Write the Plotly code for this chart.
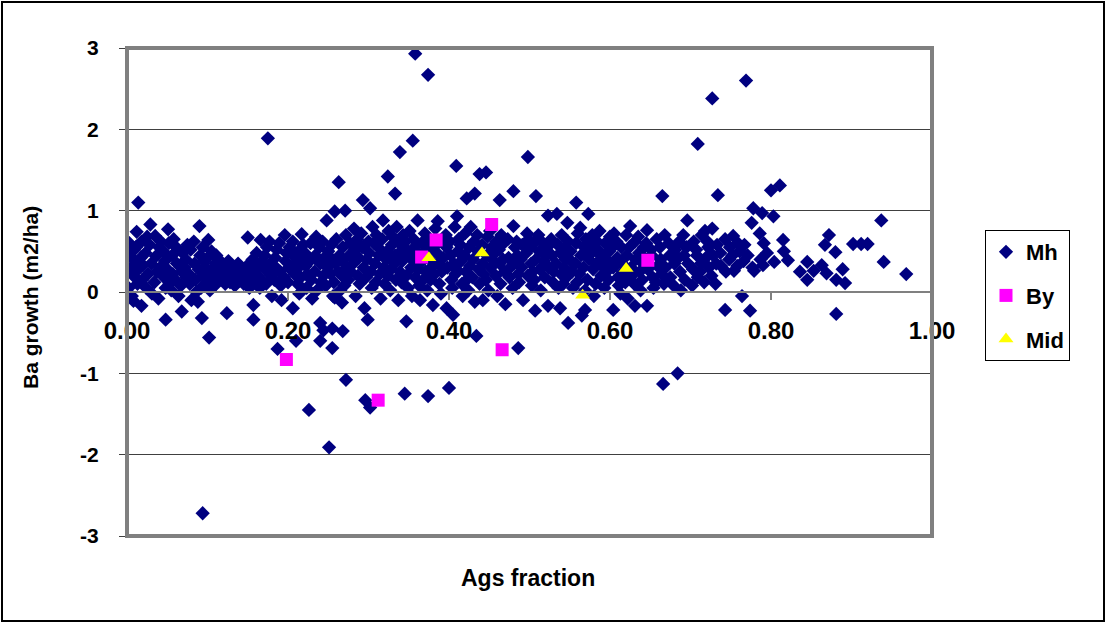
import plotly.graph_objects as go

# ---------------- data ----------------
x_ticks = [0.0, 0.2, 0.4, 0.6, 0.8, 1.0]
x_tick_labels = ["0.00", "0.20", "0.40", "0.60", "0.80", "1.00"]
y_ticks = [-3, -2, -1, 0, 1, 2, 3]
y_tick_labels = ["-3", "-2", "-1", "0", "1", "2", "3"]

# Mh: dense band
mh_band_x = [
    0.003, 0.005, 0.002, 0.006, 0.001,
    0.008, 0.009, 0.008, 0.010,
    0.012, 0.013, 0.014, 0.011,
    0.018, 0.018, 0.019, 0.017, 0.020,
    0.024, 0.023, 0.025, 0.026,
    0.029, 0.030, 0.028, 0.031,
    0.035, 0.034, 0.036, 0.037,
    0.040, 0.041, 0.039, 0.042,
    0.046, 0.045, 0.047, 0.048,
    0.051, 0.052, 0.050, 0.048, 0.053,
    0.056, 0.057, 0.058, 0.055,
    0.062, 0.061, 0.063, 0.064,
    0.068, 0.068, 0.069, 0.067,
    0.073, 0.074, 0.072, 0.075,
    0.078, 0.079, 0.077, 0.080,
    0.084, 0.083, 0.085, 0.086,
    0.090, 0.089, 0.091, 0.092, 0.088,
    0.094, 0.095, 0.093, 0.096,
    0.099, 0.100, 0.098, 0.101,
    0.104, 0.105, 0.103, 0.106,
    0.110, 0.109, 0.111, 0.112,
    0.115, 0.116, 0.114,
    0.121, 0.120, 0.124, 0.122,
    0.127, 0.128, 0.126,
    0.133, 0.132, 0.134,
    0.139, 0.140, 0.138,
    0.145, 0.146, 0.144,
    0.150, 0.151, 0.149, 0.152,
    0.157, 0.157, 0.156, 0.158, 0.157,
    0.162, 0.163, 0.161,
    0.166, 0.167, 0.168, 0.165,
    0.172, 0.171, 0.173, 0.174,
    0.178, 0.179, 0.177, 0.180,
    0.184, 0.183, 0.185, 0.186,
    0.190, 0.189, 0.191, 0.192,
    0.196, 0.197, 0.195, 0.198,
    0.201, 0.202, 0.206, 0.200,
    0.207, 0.208, 0.206, 0.209,
    0.212, 0.213, 0.211, 0.214,
    0.217, 0.218, 0.216, 0.219,
    0.222, 0.223, 0.221, 0.224,
    0.228, 0.229, 0.227, 0.230,
    0.234, 0.233, 0.235, 0.236,
    0.240, 0.239, 0.241, 0.240, 0.240,
    0.244, 0.245, 0.244, 0.243,
    0.248, 0.249, 0.247, 0.250,
    0.254, 0.253, 0.255, 0.256, 0.255,
    0.258, 0.259, 0.257, 0.260, 0.258,
    0.263, 0.264, 0.262, 0.265,
    0.268, 0.269, 0.267, 0.267, 0.268,
    0.271, 0.272, 0.273, 0.270,
    0.276, 0.277, 0.275, 0.278,
    0.282, 0.281, 0.283, 0.284,
    0.287, 0.288, 0.286, 0.289,
    0.293, 0.292, 0.294, 0.295, 0.291,
    0.298, 0.297, 0.299, 0.300,
    0.302, 0.303, 0.301, 0.304, 0.305,
    0.308, 0.307, 0.309, 0.310,
    0.313, 0.314, 0.312, 0.315,
    0.318, 0.319, 0.317, 0.320,
    0.323, 0.324, 0.322, 0.325,
    0.328, 0.329, 0.327, 0.330,
    0.333, 0.334, 0.332, 0.335,
    0.338, 0.339, 0.337, 0.340,
    0.342, 0.343, 0.341, 0.344,
    0.347, 0.347, 0.348, 0.346, 0.349,
    0.352, 0.353, 0.351, 0.354,
    0.357, 0.358, 0.356, 0.359,
    0.361, 0.362, 0.360, 0.363,
    0.366, 0.367, 0.364, 0.368,
    0.371, 0.372, 0.370, 0.373,
    0.376, 0.377, 0.375, 0.378,
    0.381, 0.380, 0.382, 0.383,
    0.386, 0.387, 0.385, 0.388,
    0.391, 0.392, 0.390, 0.393,
    0.397, 0.397, 0.398, 0.396,
    0.402, 0.403, 0.401, 0.404,
    0.405, 0.406, 0.407, 0.408,
    0.410, 0.411, 0.409, 0.412,
    0.415, 0.416, 0.414, 0.417,
    0.420, 0.421, 0.419, 0.422,
    0.425, 0.426, 0.424, 0.427,
    0.430, 0.431, 0.429, 0.432,
    0.436, 0.437, 0.435, 0.438,
    0.442, 0.442, 0.441, 0.443,
    0.447, 0.448, 0.446, 0.449,
    0.452, 0.453, 0.451, 0.454,
    0.458, 0.457, 0.459, 0.460,
    0.463, 0.464, 0.462, 0.465,
    0.468, 0.469, 0.467, 0.470,
    0.474, 0.475, 0.473, 0.476,
    0.480, 0.481, 0.479, 0.482,
    0.485, 0.486, 0.484, 0.487,
    0.490, 0.491, 0.492, 0.489,
    0.497, 0.496, 0.498, 0.499,
    0.502, 0.503, 0.501, 0.504,
    0.507, 0.508, 0.507, 0.506,
    0.512, 0.513, 0.511, 0.514,
    0.518, 0.517, 0.519, 0.520,
    0.523, 0.524, 0.523, 0.522,
    0.528, 0.529, 0.527, 0.530,
    0.534, 0.533, 0.535, 0.536,
    0.538, 0.538, 0.539, 0.540,
    0.543, 0.544, 0.542, 0.545,
    0.547, 0.548, 0.546, 0.548,
    0.552, 0.553, 0.551, 0.554,
    0.558, 0.557, 0.559, 0.560,
    0.563, 0.564, 0.562, 0.565,
    0.568, 0.567, 0.569, 0.570, 0.569,
    0.573, 0.574, 0.572, 0.575,
    0.578, 0.579, 0.577, 0.580,
    0.583, 0.584, 0.582, 0.585,
    0.588, 0.589, 0.587, 0.590,
    0.594, 0.593, 0.595, 0.596,
    0.599, 0.600, 0.598, 0.601,
    0.604, 0.604, 0.603, 0.605,
    0.609, 0.610, 0.608, 0.611,
    0.614, 0.615, 0.613, 0.616,
    0.620, 0.621, 0.619, 0.622,
    0.625, 0.626, 0.624, 0.627,
    0.631, 0.632, 0.631, 0.630,
    0.636, 0.637, 0.635, 0.638,
    0.641, 0.642, 0.640, 0.643,
    0.646, 0.647, 0.646, 0.645,
    0.652, 0.653, 0.651, 0.654,
    0.658, 0.659, 0.657,
    0.663, 0.664, 0.662,
    0.668, 0.669, 0.667,
    0.674, 0.675, 0.673,
    0.680, 0.681, 0.679,
    0.686, 0.687, 0.685, 0.688,
    0.692, 0.693, 0.691,
    0.696, 0.697, 0.695,
    0.703, 0.704, 0.702,
    0.708, 0.709, 0.707,
    0.713, 0.714, 0.712,
    0.718, 0.719, 0.717,
    0.722, 0.723, 0.721,
    0.727, 0.728, 0.726,
    0.732, 0.733, 0.731,
    0.737, 0.738,
    0.743, 0.744, 0.743,
    0.748, 0.749,
    0.753, 0.754, 0.752,
    0.758, 0.759,
    0.761, 0.764,
    0.766, 0.767,
    0.771, 0.774,
    0.776, 0.777,
    0.778, 0.779,
    0.786, 0.787,
    0.789, 0.790, 0.791,
    0.795,
    0.803, 0.804,
    0.815, 0.816,
    0.821,
]
mh_band_y = [
    0.60, 0.30, 0.05, -0.05, 0.45,
    0.20, 0.52, -0.11, 0.38,
    0.74, 0.10, 0.28, 0.55,
    0.62, -0.17, 0.15, 0.42, 0.33,
    0.05, 0.48, 0.68, 0.22,
    0.83, 0.35, 0.58, -0.02,
    0.69, 0.12, 0.44, 0.25,
    0.55, 0.30, -0.08, 0.62,
    0.18, 0.50, 0.38, 0.05,
    0.77, 0.60, 0.28, -0.34, 0.10,
    0.45, 0.22, 0.65, 0.02,
    0.35, 0.55, 0.12, -0.05,
    0.25, -0.24, 0.48, 0.08,
    0.40, 0.18, 0.30, 0.58,
    0.10, 0.52, 0.22, -0.10,
    0.35, 0.62, 0.15, 0.00,
    0.81, 0.28, 0.45, 0.05, -0.12,
    0.55, 0.20, -0.32, 0.38,
    0.12, 0.42, 0.30, 0.64,
    0.25, 0.50, 0.02, 0.18,
    0.35, 0.08, 0.45, 0.22,
    0.15, 0.28, 0.40,
    0.20, 0.32, -0.26, 0.10,
    0.25, 0.12, 0.38,
    0.18, 0.30, 0.08,
    0.22, 0.14, 0.35,
    0.10, 0.28, 0.20,
    0.67, 0.18, 0.32, 0.05,
    0.25, -0.16, 0.40, 0.12, -0.34,
    0.30, 0.20, 0.48,
    0.64, 0.15, 0.38, 0.05,
    0.28, 0.45, 0.10, 0.55,
    0.35, 0.20, 0.62, -0.05,
    0.42, 0.15, 0.30, 0.52,
    0.25, 0.60, 0.08, -0.10,
    0.70, 0.38, 0.18, 0.48,
    0.30, 0.55, -0.20, 0.12,
    0.45, 0.22, 0.62, 0.35,
    0.10, 0.50, 0.28, -0.02,
    0.71, 0.40, 0.18, 0.58,
    0.32, 0.05, 0.48, 0.22,
    0.60, 0.15, 0.38, -0.08,
    0.45, 0.25, 0.68, 0.02,
    0.35, 0.55, 0.12, -0.38, -0.60,
    0.20, 0.42, -0.47, 0.62,
    0.88, 0.30, 0.08, 0.50,
    0.58, 0.22, 0.40, -0.05, -0.69,
    0.99, 0.35, 0.12, 0.65, -0.07,
    1.35, 0.45, 0.25, 0.02,
    0.55, 0.18, 0.38, -0.13, -0.48,
    1.00, 0.70, 0.30, 0.08,
    0.45, 0.60, 0.15, 0.25,
    0.78, 0.35, 0.52, -0.05,
    0.20, 0.42, 0.65, 0.10,
    1.13, 0.55, 0.30, -0.20, 0.72,
    0.40, 0.18, -0.34, 0.62,
    1.03, 0.25, 0.48, 0.05, 0.80,
    0.35, 0.60, 0.12, 0.70,
    0.45, 0.22, 0.55, -0.08,
    0.88, 0.30, 0.65, 0.10,
    0.50, 0.20, 0.40, 0.75,
    0.28, 0.58, 0.02, 0.68,
    0.45, 0.15, 0.35, 0.80,
    0.60, 0.25, -0.10, 0.50,
    0.38, 0.70, 0.12, 0.55,
    0.20, -0.36, 0.48, 0.62, 0.05,
    0.42, 0.30, 0.75, -0.05,
    0.55, 0.18, 0.65, 0.35,
    0.88, 0.28, 0.48, 0.08,
    0.60, 0.38, -0.10, 0.15,
    0.25, 0.52, 0.72, 0.02,
    0.40, 0.15, 0.62, 0.30,
    0.55, -0.16, 0.22, 0.78,
    0.87, 0.35, 0.48, 0.10,
    0.25, 0.62, -0.02, 0.42,
    0.55, -0.20, 0.30, 0.70,
    0.45, 0.15, 0.62, 0.05,
    -0.28, 0.35, 0.80, 0.22,
    0.93, 0.50, 0.28, 0.65,
    0.38, 0.10, 0.58, -0.05,
    0.72, 0.25, 0.45, 0.15,
    0.55, 0.32, 0.02, 0.80,
    0.40, 0.62, 0.18, -0.12,
    0.50, 0.28, 0.70, 0.10,
    0.35, -0.10, 0.58, 0.22,
    0.45, 0.68, 0.15, 0.02,
    0.30, 0.55, 0.75, 0.40,
    0.20, 0.48, 0.62, -0.05,
    0.35, 0.10, 0.52, 0.70,
    0.60, 0.25, 0.40, -0.15,
    0.42, 0.18, 0.65, 0.30,
    0.81, 0.35, 0.05, 0.55,
    0.45, 0.22, 0.62, 0.12,
    0.30, 0.58, -0.10, 0.40,
    0.72, 0.48, 0.20, 0.65,
    0.35, 0.08, 0.55, 0.25,
    0.62, 0.40, -0.23, 0.15,
    0.50, 0.28, 0.70, 0.02,
    0.38, 0.60, 0.18, 0.45,
    0.94, 0.30, -0.17, 0.55,
    0.45, 0.12, 0.65, 0.25,
    0.96, 0.35, 0.58, 0.05,
    0.48, -0.20, 0.22, 0.70,
    0.30, 0.55, 0.10, 0.40,
    0.85, 0.62, 0.18, -0.38,
    0.38, 0.25, 0.50, 0.05,
    0.60, 0.35, 0.12, 0.72,
    0.79, 0.45, 0.22, -0.29,
    0.55, 0.30, 0.02, 0.65, -0.22,
    0.96, 0.40, 0.15, 0.58,
    0.70, 0.28, 0.48, -0.05,
    0.35, 0.62, 0.10, 0.52,
    0.45, 0.20, 0.75, 0.32,
    0.60, 0.05, 0.40, 0.25,
    0.50, 0.68, 0.15, 0.35,
    0.30, -0.22, 0.55, 0.72,
    0.42, 0.18, 0.62, 0.08,
    0.55, 0.35, -0.02, 0.25,
    0.70, 0.45, 0.12, -0.08,
    0.81, 0.30, 0.55, 0.20,
    0.62, 0.40, -0.17, 0.10,
    0.48, 0.25, 0.68, 0.02,
    0.35, 0.55, 0.15, 0.42,
    0.76, 0.28, -0.17, 0.60,
    0.45, 0.18, 0.52, 0.05,
    0.65, 0.32, 0.12,
    0.40, 0.22, 0.55,
    0.70, 0.30, 0.10,
    0.45, 0.18, 0.60,
    0.35, 0.52, 0.08,
    0.62, 0.25, 0.42, 0.02,
    0.45, 0.15, 0.70,
    0.88, 0.35, 0.55,
    0.28, 0.62, 0.08,
    0.45, 0.18, 0.52,
    0.35, 0.70, 0.25,
    0.75, 0.42, 0.12,
    0.55, 0.30, 0.62,
    0.78, 0.45, 0.20,
    0.35, 0.58, 0.10,
    0.48, 0.32,
    0.65, 0.25, -0.22,
    0.40, 0.55,
    0.69, 0.26, 0.45,
    0.32, 0.60,
    0.50, -0.05,
    0.38, 0.58,
    0.45, -0.23,
    0.85, 0.30,
    1.03, 0.26,
    0.72, 0.40,
    0.97, 0.33, 0.60,
    0.48,
    0.93, 0.37,
    0.64, 0.50,
    0.39,
]

# Mh: sparse right-hand points
mh_right_x = [0.836, 0.845, 0.845, 0.853, 0.863, 0.867, 0.869, 0.872, 0.880, 0.881,
              0.881, 0.889, 0.892, 0.902, 0.912, 0.920, 0.937, 0.940, 0.968]
mh_right_y = [0.25, 0.37, 0.15, 0.26, 0.33, 0.58, 0.23, 0.70, 0.49, 0.15,
              -0.27, 0.28, 0.11, 0.59, 0.59, 0.59, 0.88, 0.37, 0.22]

# Mh: outlying points
mh_out_x = [0.358, 0.374, 0.175, 0.355, 0.339, 0.324, 0.333, 0.014, 0.409, 0.498,
            0.438, 0.446, 0.422, 0.432, 0.463, 0.480, 0.508, 0.558, 0.665, 0.709,
            0.769, 0.727, 0.734, 0.800, 0.811, 0.094, 0.251, 0.226, 0.272, 0.296,
            0.302, 0.345, 0.374, 0.400, 0.187, 0.102, 0.486, 0.434, 0.666, 0.684,
            0.210, 0.255]
mh_out_y = [2.93, 2.67, 1.89, 1.86, 1.72, 1.42, 1.21, 1.10, 1.55, 1.66,
            1.45, 1.47, 1.15, 1.21, 1.13, 1.24, 1.18, 1.10, 1.18, 1.82,
            2.60, 2.38, 1.19, 1.25, 1.31, -2.72, -1.91, -1.45, -1.08, -1.33,
            -1.42, -1.25, -1.28, -1.18, -0.70, -0.56, -0.69, -0.54, -1.13, -1.00,
            -0.60, -0.45]

by_x = [0.453, 0.384, 0.366, 0.647, 0.198, 0.312, 0.466]
by_y = [0.83, 0.64, 0.43, 0.39, -0.83, -1.33, -0.71]

mid_x = [0.375, 0.441, 0.620, 0.566]
mid_y = [0.42, 0.48, 0.29, -0.04]

assert len(mh_band_x) == len(mh_band_y), (len(mh_band_x), len(mh_band_y))
assert len(mh_right_x) == len(mh_right_y)
assert len(mh_out_x) == len(mh_out_y)

mh_x = mh_band_x + mh_right_x + mh_out_x
mh_y = mh_band_y + mh_right_y + mh_out_y

# ---------------- figure ----------------
FONT = "Liberation Sans, Arial, sans-serif"
W, H = 1107, 628
L, R, T, B = 127, 175, 48, 92
PW, PH = W - L - R, H - T - B


def px_x(p):
    return (p - L) / PW


def px_y(p):
    return (H - B - p) / PH


def bold(s):
    return "<b>" + s + "</b>"


fig = go.Figure()
fig.add_trace(go.Scatter(
    x=mh_x, y=mh_y, mode="markers", name=bold("Mh"), legendgroup="g1",
    marker=dict(symbol="diamond", size=11, color="#000080", line=dict(width=0)),
))
fig.add_trace(go.Scatter(
    x=by_x, y=by_y, mode="markers", name=bold("By"), legendgroup="g2",
    marker=dict(symbol="square", size=13, color="#FF00FF", line=dict(width=0)),
))
fig.add_trace(go.Scatter(
    x=mid_x, y=mid_y, mode="markers", name=bold("Mid"), legendgroup="g3",
    marker=dict(symbol="triangle-up", size=13, color="#FFFF00", line=dict(width=0)),
))


def fnt(size):
    return dict(family=FONT, size=size, color="black")


fig.update_layout(
    width=W, height=H,
    margin=dict(l=L, r=R, t=T, b=B, pad=0),
    paper_bgcolor="white", plot_bgcolor="white",
    font=dict(family=FONT, color="black"),
    showlegend=True,
    legend=dict(
        x=px_x(985), y=px_y(230), xanchor="left", yanchor="top",
        bordercolor="black", borderwidth=1, bgcolor="white",
        font=fnt(22), traceorder="grouped", tracegroupgap=12,
    ),
    xaxis=dict(
        range=[0, 1], tickvals=x_ticks, ticktext=[bold(t) for t in x_tick_labels],
        anchor="free", position=0.5,
        showline=True, linecolor="#808080", linewidth=2,
        ticks="outside", ticklen=7, tickcolor="#808080", tickwidth=2,
        showgrid=False, zeroline=False, tickfont=fnt(24),
        ticklabelstandoff=10,
    ),
    yaxis=dict(
        range=[-3, 3], tickvals=y_ticks, ticktext=[bold(t) for t in y_tick_labels],
        showgrid=True, gridcolor="#404040", gridwidth=1,
        zeroline=False, showline=False,
        ticks="outside", ticklen=7, tickcolor="#404040", tickwidth=1,
        tickfont=fnt(21), ticklabelstandoff=16,
    ),
    shapes=[
        dict(type="rect", xref="paper", yref="paper", x0=0, x1=1, y0=0, y1=1,
             line=dict(color="#808080", width=4), layer="above"),
        dict(type="rect", xref="paper", yref="paper",
             x0=px_x(2), x1=px_x(1104), y0=px_y(621), y1=px_y(2),
             line=dict(color="black", width=2), layer="above"),
    ],
    annotations=[
        dict(text=bold("Ba growth (m2/ha)"), xref="paper", yref="paper",
             x=px_x(30), y=px_y(298), textangle=-90, showarrow=False,
             font=fnt(21), xanchor="center", yanchor="middle"),
        dict(text=bold("Ags fraction"), xref="paper", yref="paper",
             x=px_x(528), y=px_y(578), showarrow=False,
             font=fnt(23), xanchor="center", yanchor="middle"),
    ],
)

fig.write_html(
    "out.html",
    config={"displayModeBar": False},
    post_script="document.body.style.margin='0';document.body.style.overflow='hidden';",
)
